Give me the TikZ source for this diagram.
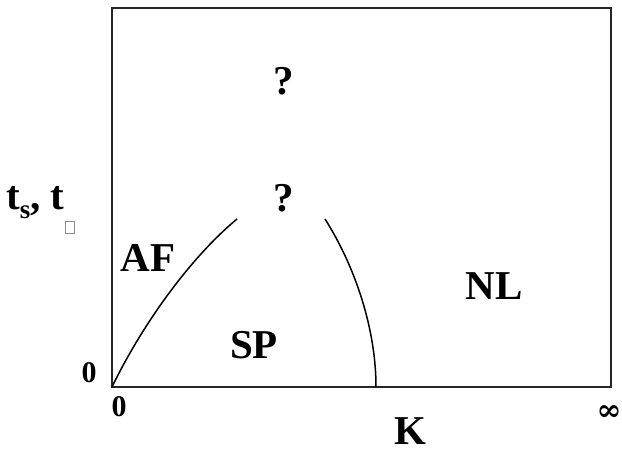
\documentclass[tikz,border=0pt]{standalone}
\usepackage{fontspec}
\setmainfont{Liberation Serif}
\newfontfamily\symbfont{DejaVu Serif}
\usepackage{tikz}
\tikzset{
  phase/.style = {font=\fontsize{41}{41}\selectfont\bfseries, inner sep=0pt, anchor=base},
  tick/.style  = {font=\fontsize{30}{30}\selectfont\bfseries, inner sep=0pt, anchor=base},
  frame/.style = {draw=black!85, line width=1.3pt},
  bound/.style = {draw=black, line width=1.5pt},
}
\newcommand{\lowidx}[2]{\raisebox{#1}{\fontsize{27}{27}\selectfont #2}}
\newcommand{\blankglyph}{{\color{black!45}\fboxsep=0pt\fboxrule=1pt\fbox{\phantom{\rule{8pt}{11pt}}}}}

\begin{document}
\begin{tikzpicture}[x=1pt,y=-1pt]
  \useasboundingbox (0,0) rectangle (622,449);
  % plot frame
  \draw[frame] (112,8) rectangle (611,387);
  \coordinate (orig) at (112,387);
  \coordinate (afend) at (237,219);
  \coordinate (nlend) at (325,219);
  \coordinate (kfoot) at (376,387);
  % phase boundaries
  \draw[bound] (orig) .. controls (142,325) and (190,258) .. (afend);
  \draw[bound] (nlend) .. controls (356,268) and (376,330) .. (kfoot);
  % phase labels
  \node[phase] (qtop) at (284,95) {?};
  \node[phase] (qmid) at (284,212) {?};
  \node[phase] (af) at (148,272) {AF};
  \node[phase] (sp) at (254,359) {SP};
  \node[phase] (nl) at (494,300) {NL};
  % axes
  \node[tick] (zeroy) at (89,383) {0};
  \node[tick] (zerox) at (119,417) {0};
  \node[phase, text depth=0pt] (kax) at (410,444) {K};
  \node[inner sep=0pt, font=\fontsize{30}{30}\selectfont\symbfont\bfseries] (inf) at (609,413) {∞};
  \node[phase, anchor=base west] (tax) at (6,210)
    {t\lowidx{-9pt}{s}, t\raisebox{-23pt}{\blankglyph}};
\end{tikzpicture}
\end{document}
